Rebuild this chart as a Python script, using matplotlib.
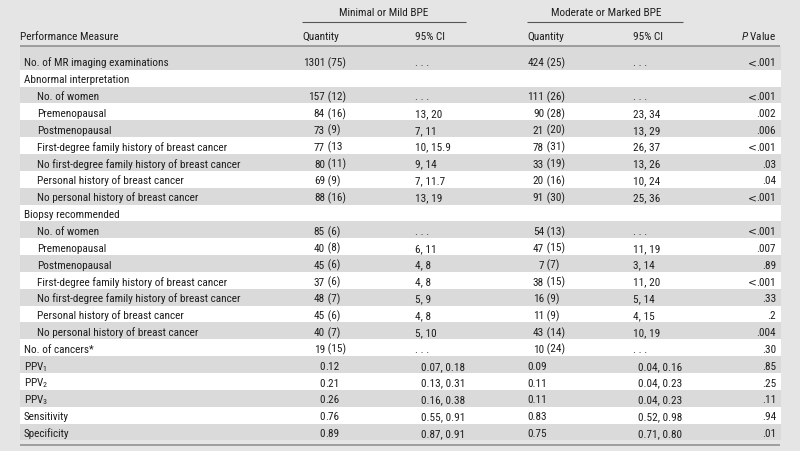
import matplotlib
matplotlib.use("Agg")
import matplotlib.pyplot as plt
from matplotlib import font_manager as fm
from matplotlib.textpath import TextPath
from matplotlib.font_manager import FontProperties

# ---------------- data ----------------
measures = [
    "No. of MR imaging examinations",
    "Abnormal interpretation",
    "No. of women",
    "Premenopausal",
    "Postmenopausal",
    "First-degree family history of breast cancer",
    "No first-degree family history of breast cancer",
    "Personal history of breast cancer",
    "No personal history of breast cancer",
    "Biopsy recommended",
    "No. of women",
    "Premenopausal",
    "Postmenopausal",
    "First-degree family history of breast cancer",
    "No first-degree family history of breast cancer",
    "Personal history of breast cancer",
    "No personal history of breast cancer",
    "No. of cancers*",
    "PPV$_\\mathregular{1}$",
    "PPV$_\\mathregular{2}$",
    "PPV$_\\mathregular{3}$",
    "Sensitivity",
    "Specificity",
]
indent = [0, 0, 1, 1, 1, 1, 1, 1, 1, 0, 1, 1, 1, 1, 1, 1, 1, 0, 0, 0, 0, 0, 0]

DOTS = ". . ."
mild_qty = ["1301 (75)", "", "157 (12)", "84 (16)", "73 (9)", "77 (13", "80 (11)", "69 (9)", "88 (16)",
            "", "85 (6)", "40 (8)", "45 (6)", "37 (6)", "48 (7)", "45 (6)", "40 (7)",
            "19 (15)", "0.12", "0.21", "0.26", "0.76", "0.89"]
mild_ci = [DOTS, "", DOTS, "13, 20", "7, 11", "10, 15.9", "9, 14", "7, 11.7", "13, 19",
           "", DOTS, "6, 11", "4, 8", "4, 8", "5, 9", "4, 8", "5, 10",
           DOTS, "0.07, 0.18", "0.13, 0.31", "0.16, 0.38", "0.55, 0.91", "0.87, 0.91"]
mod_qty = ["424 (25)", "", "111 (26)", "90 (28)", "21 (20)", "78 (31)", "33 (19)", "20 (16)", "91 (30)",
           "", "54 (13)", "47 (15)", "7 (7)", "38 (15)", "16 (9)", "11 (9)", "43 (14)",
           "10 (24)", "0.09", "0.11", "0.11", "0.83", "0.75"]
mod_ci = [DOTS, "", DOTS, "23, 34", "13, 29", "26, 37", "13, 26", "10, 24", "25, 36",
          "", DOTS, "11, 19", "3, 14", "11, 20", "5, 14", "4, 15", "10, 19",
          DOTS, "0.04, 0.16", "0.04, 0.23", "0.04, 0.23", "0.52, 0.98", "0.71, 0.80"]
p_values = ["<.001", "", "<.001", ".002", ".006", "<.001", ".03", ".04", "<.001",
            "", "<.001", ".007", ".89", "<.001", ".33", ".2", ".004",
            ".30", ".85", ".25", ".11", ".94", ".01"]

group_headers = ["Minimal or Mild BPE", "Moderate or Marked BPE"]
col_headers = ["Performance Measure", "Quantity", "95% CI", "Quantity", "95% CI", "$\\mathit{P}$ Value"]

# ---------------- font choice ----------------
names = {f.name for f in fm.fontManager.ttflist}
prefs = ["Nimbus Sans Narrow", "Liberation Sans Narrow", "Roboto Condensed", "Archivo Narrow",
         "PT Sans Narrow", "Fira Sans Condensed", "IBM Plex Sans Condensed", "Asap Condensed",
         "Barlow Semi Condensed", "Liberation Sans"]
FONT = next((p for p in prefs if p in names), "DejaVu Sans")
FP = FontProperties(family=FONT)

ref_w = TextPath((0, 0), "No. of MR imaging examinations", size=100, prop=FP).get_extents().width
px = 143.0 * 100.0 / ref_w
cap = TextPath((0, 0), "H", size=px, prop=FP).get_extents().height
if cap > 9.2:
    px *= 9.2 / cap
    cap = 9.2
FS = px * 72.0 / 100.0

plt.rcParams["font.family"] = [FONT, "DejaVu Sans"]
plt.rcParams["mathtext.fontset"] = "custom"
plt.rcParams["mathtext.rm"] = FONT
plt.rcParams["mathtext.it"] = FONT + ":italic"
plt.rcParams["mathtext.bf"] = FONT + ":bold"

BG = "#e5e5e5"
ROW_GRAY = "#dadada"
WHITE = "#ffffff"
TXT = "#1e1e1e"
LINE = "#8a8a8a"

W, H = 800, 452
fig = plt.figure(figsize=(W / 100, H / 100), dpi=100)
fig.patch.set_facecolor(BG)
ax = fig.add_axes([0, 0, 1, 1])
ax.set_xlim(0, W)
ax.set_ylim(H, 0)
ax.axis("off")
ax.set_facecolor(BG)

L, R = 20, 781
ROW0 = 53.85
RH = 16.85
HEAD_LINE = 47

for i in range(len(measures)):
    top = ROW0 + i * RH
    bottom = top + RH
    if i == 0:
        top = HEAD_LINE
    col = ROW_GRAY if i % 2 == 0 else WHITE
    ax.add_patch(plt.Rectangle((L, top), R - L, bottom - top, facecolor=col, edgecolor="none", zorder=0))

ax.plot([L, R - 1], [HEAD_LINE, HEAD_LINE], color=LINE, lw=1.1, solid_capstyle="butt")
ax.plot([L, R - 1], [446, 446], color=LINE, lw=1.1, solid_capstyle="butt")
ax.plot([302, 466], [22.5, 22.5], color="#555555", lw=0.8, solid_capstyle="butt")
ax.plot([527, 683], [22.5, 22.5], color="#555555", lw=0.8, solid_capstyle="butt")

kw = dict(fontsize=FS, color=TXT, va="baseline")


def T(x, y_center, s, ha="left", **extra):
    d = dict(kw)
    d.update(extra)
    ax.text(x, y_center + cap / 2.0, s, ha=ha, **d)


T(384, 12, group_headers[0], "center")
T(606, 12, group_headers[1], "center")
T(20, 36, col_headers[0])
T(302, 36, col_headers[1])
T(415, 36, col_headers[2])
T(527, 36, col_headers[3])
T(633, 36, col_headers[4])
T(776, 36, col_headers[5], "right")


def split_align(s, x, y):
    if " (" in s:
        a, b = s.split(" (", 1)
        b = " (" + b
    elif "." in s:
        a, b = s.split(".", 1)
        b = "." + b
    else:
        a, b = s, ""
    T(x, y, a, "right")
    T(x, y, b, "left")


def pval(s, x, y):
    if s.startswith("<"):
        rest = s[1:]
        T(x, y, rest, "right")
        rw = TextPath((0, 0), "0" + rest, size=px, prop=FP).get_extents().width \
            - TextPath((0, 0), "0", size=px, prop=FP).get_extents().width
        T(x - rw - 1.5, y, "<", "right", family="DejaVu Sans", fontsize=FS * 0.95)
    else:
        T(x, y, s, "right")


for i, m in enumerate(measures):
    y = ROW0 + i * RH + RH / 2 + 0.2
    T(24 if indent[i] == 0 else 37, y, m)
    if mild_qty[i]:
        split_align(mild_qty[i], 325, y)
    if mild_ci[i]:
        T(421 if mild_ci[i].startswith("0.") else 415, y, mild_ci[i])
    if mod_qty[i]:
        if " (" in mod_qty[i]:
            split_align(mod_qty[i], 544, y)
        else:
            T(527, y, mod_qty[i])
    if mod_ci[i]:
        T(638 if mod_ci[i].startswith("0.") else 633, y, mod_ci[i])
    if p_values[i]:
        pval(p_values[i], 776, y)

fig.savefig("out.png", dpi=100, facecolor=BG)
